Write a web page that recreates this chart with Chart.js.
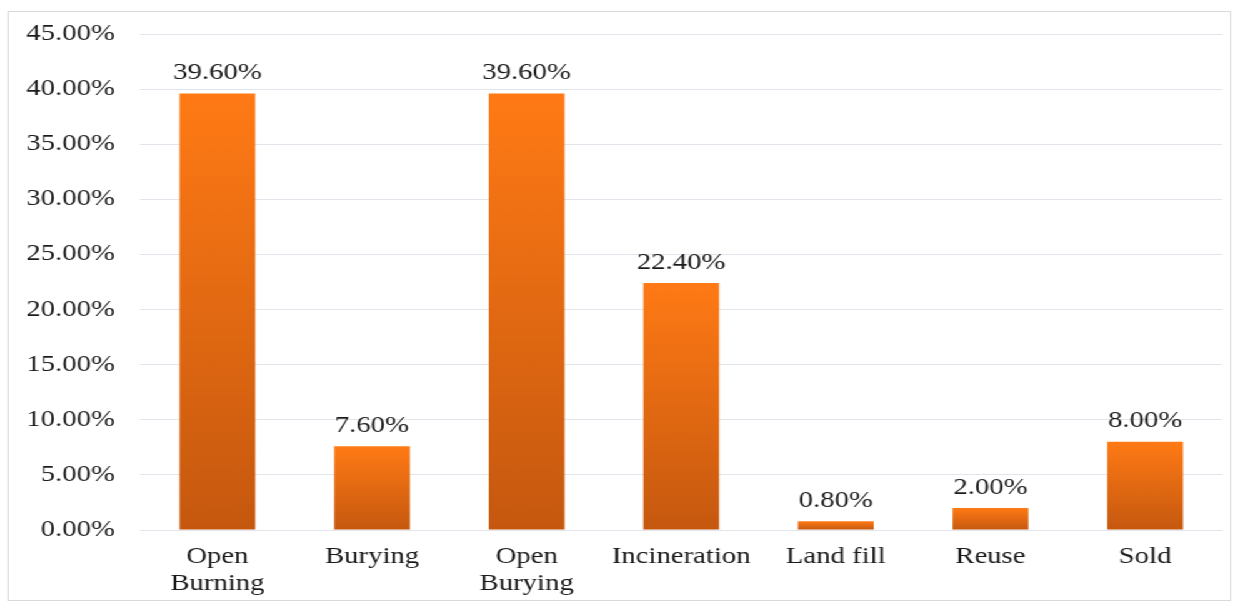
<!DOCTYPE html>
<html>
<head>
<meta charset="utf-8">
<script src="https://cdn.jsdelivr.net/npm/chart.js@4/dist/chart.umd.min.js"></script>
<style>
  html, body { margin: 0; padding: 0; background: #fff; overflow: hidden; }
  /* the reference is stretched sideways, so draw narrow and widen it */
  #stretch { position: absolute; left: 0; top: 0; width: 991px; height: 603px;
             transform: scaleX(1.25); transform-origin: 0 0; }
  #box { position: absolute; left: 6px; top: 11px; width: 977px; height: 588px;
         border: 1px solid #d9d9d9; }
</style>
</head>
<body>
<div id="stretch">
  <div id="box"><canvas id="chart"></canvas></div>
</div>
<script>
// ── data ──────────────────────────────────────────────
const categories = [['Open', 'Burning'], 'Burying', ['Open', 'Burying'], 'Incineration', 'Land fill', 'Reuse', 'Sold'];
const shares = [39.6, 7.6, 39.6, 22.4, 0.8, 2.0, 8.0];
const yTicks = [0, 5, 10, 15, 20, 25, 30, 35, 40, 45];

const serif = "'Liberation Serif', 'Times New Roman', serif";
const textColor = '#1a1a1a';

// value labels above each bar
const barLabels = {
  id: 'barLabels',
  afterDatasetsDraw(chart) {
    const ctx = chart.ctx;
    const meta = chart.getDatasetMeta(0);
    ctx.save();
    ctx.font = '23px ' + serif;
    ctx.fillStyle = textColor;
    ctx.textAlign = 'center';
    ctx.textBaseline = 'bottom';
    meta.data.forEach((bar, i) => {
      ctx.fillText(shares[i].toFixed(2) + '%', bar.x, bar.y - 9);
    });
    ctx.restore();
  }
};

function barGradient(c) {
  const chart = c.chart;
  if (!chart.chartArea || c.type !== 'data') return '#F0701A';
  const y = chart.scales.y;
  const top = y.getPixelForValue(c.raw);
  const bottom = y.getPixelForValue(0);
  const g = chart.ctx.createLinearGradient(0, top, 0, bottom);
  g.addColorStop(0, '#FF7A15');
  g.addColorStop(1, '#C5580F');
  return g;
}

new Chart(document.getElementById('chart'), {
  type: 'bar',
  data: {
    labels: categories,
    datasets: [{
      data: shares,
      backgroundColor: barGradient,
      borderWidth: 0,
      barPercentage: 0.49,
      categoryPercentage: 1
    }]
  },
  options: {
    responsive: true,
    maintainAspectRatio: false,
    animation: false,
    layout: { padding: { top: 22, right: 6, left: 0, bottom: 0 } },
    plugins: {
      legend: { display: false },
      tooltip: { enabled: false }
    },
    scales: {
      x: {
        grid: { display: false },
        border: { display: false },
        ticks: {
          color: textColor,
          font: { family: serif, size: 23, lineHeight: 1.15 },
          padding: 6,
          maxRotation: 0,
          autoSkip: false
        },
        afterFit: s => { s.height = 70; }
      },
      y: {
        min: 0,
        max: 45,
        afterBuildTicks: s => { s.ticks = yTicks.map(v => ({ value: v })); },
        grid: { color: '#e2e5eb', lineWidth: 1, drawTicks: false },
        border: { display: false },
        ticks: {
          color: textColor,
          font: { family: serif, size: 23 },
          padding: 20,
          callback: v => v.toFixed(2) + '%'
        },
        afterFit: s => {
          s.width = 105;
          s.paddingTop = 0;
          s.paddingBottom = 0;
        }
      }
    }
  },
  plugins: [barLabels]
});
</script>
</body>
</html>
